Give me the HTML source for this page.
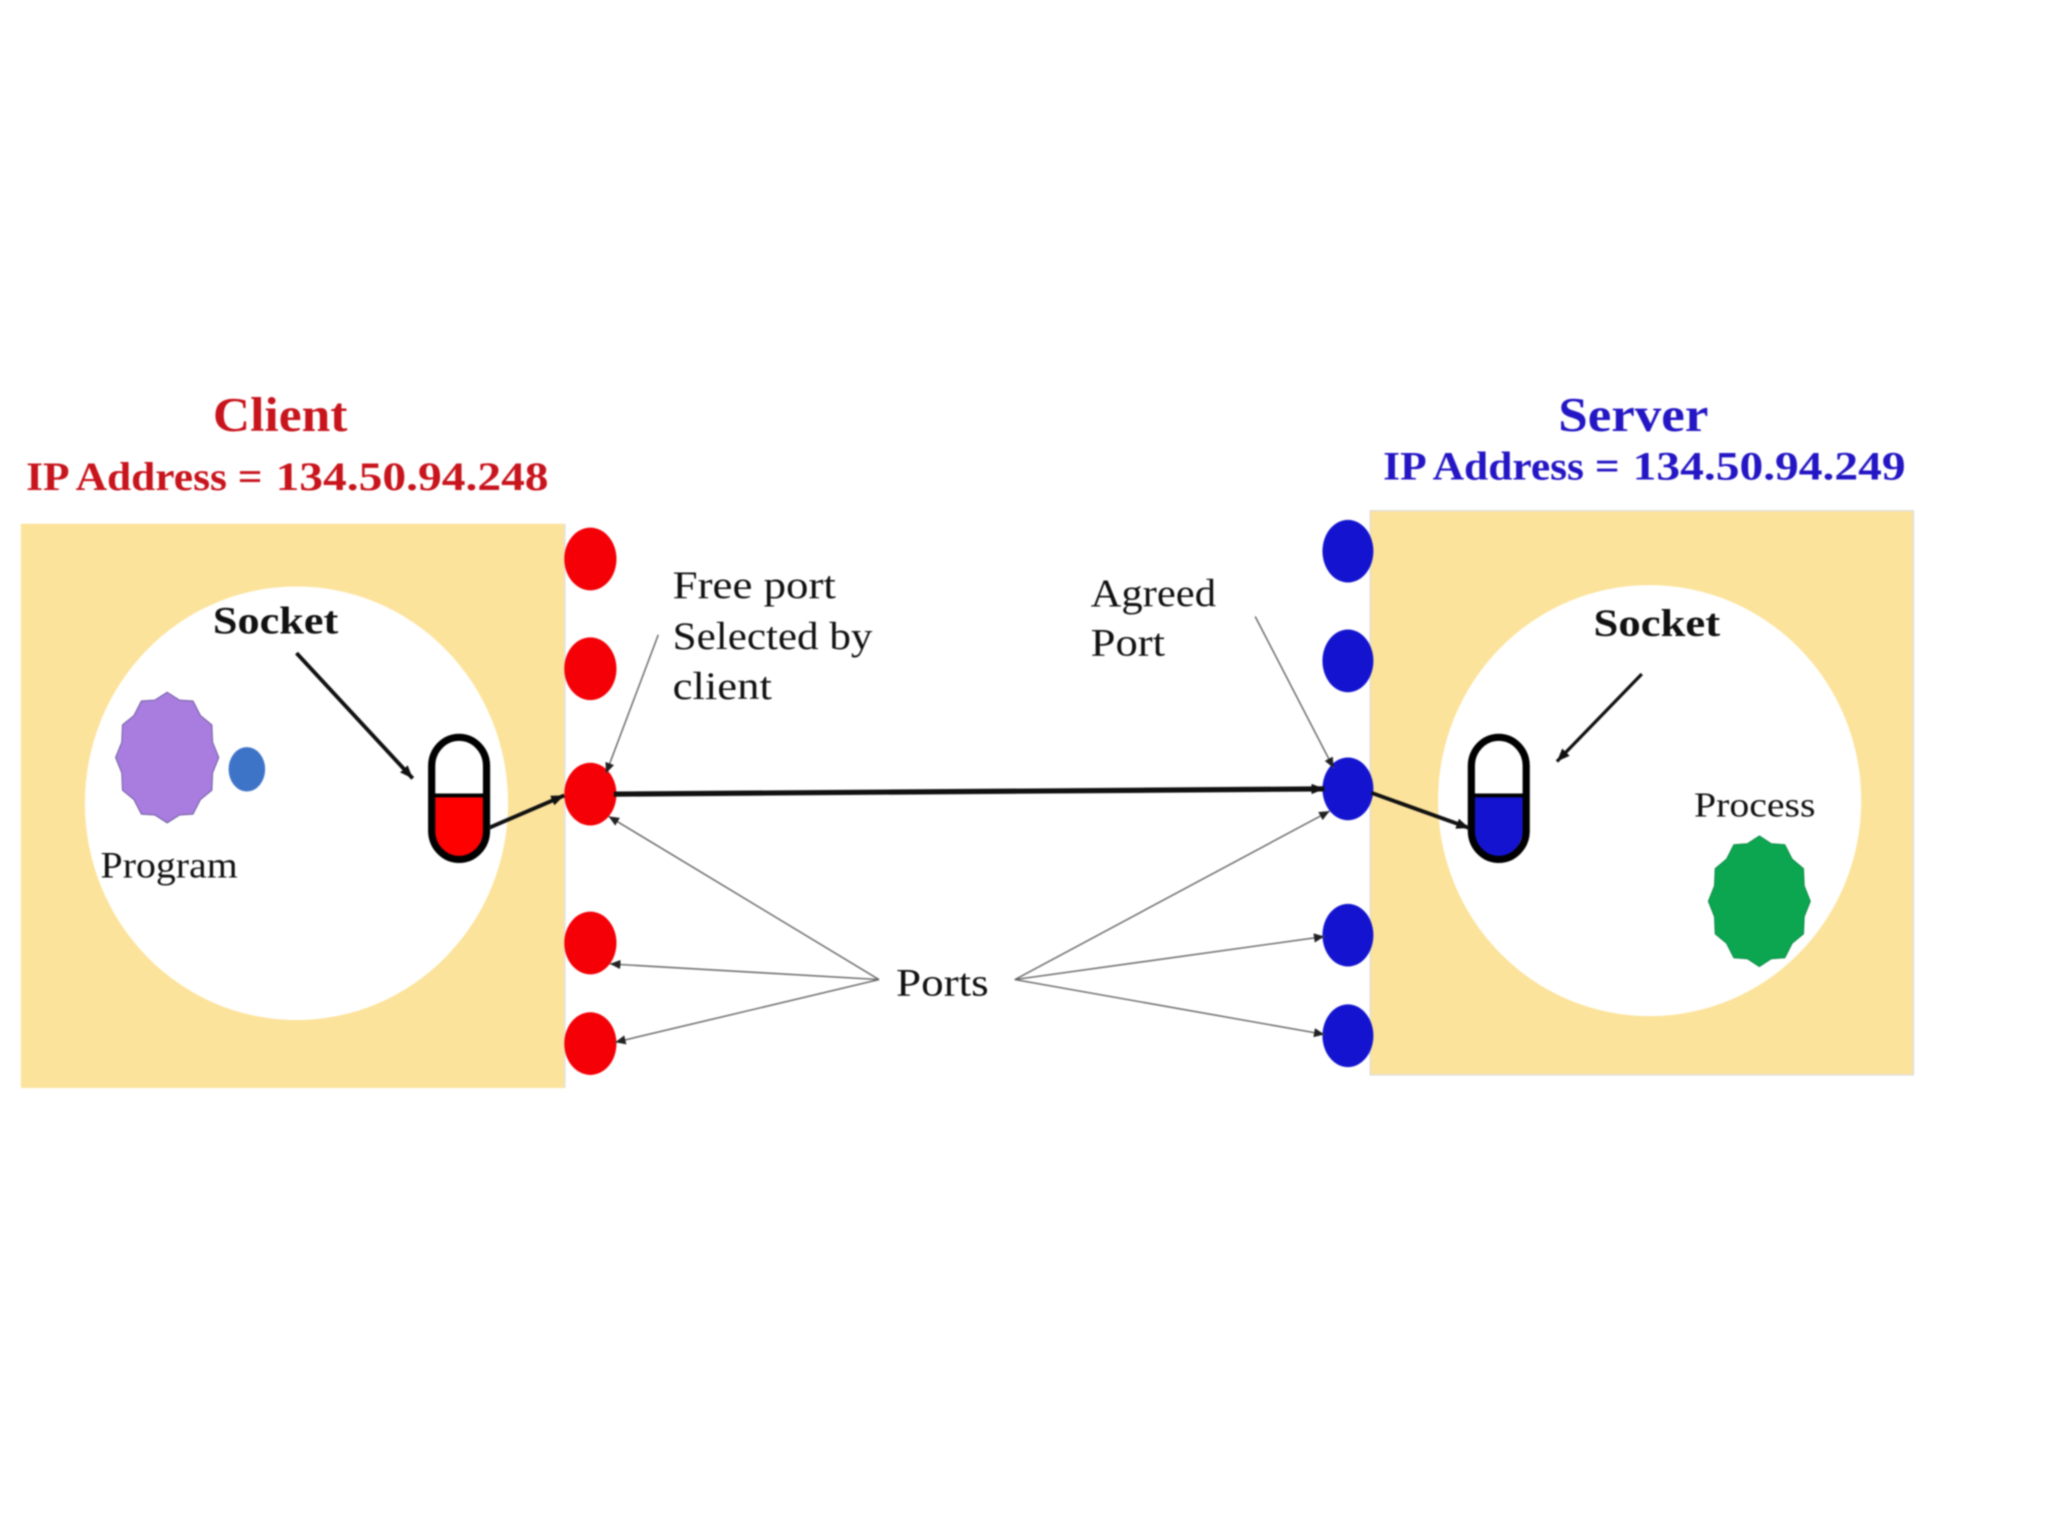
<!DOCTYPE html>
<html>
<head>
<meta charset="utf-8">
<style>
html,body{margin:0;padding:0;background:#fff;width:2048px;height:1536px;overflow:hidden}
svg{display:block;filter:blur(.8px)}
text{font-family:"Liberation Serif",serif;fill:#111}
.b{font-weight:bold}
.star{vector-effect:non-scaling-stroke;stroke-width:1}
</style>
</head>
<body>
<svg width="2048" height="1536" viewBox="0 0 1568 1176" xmlns="http://www.w3.org/2000/svg">
<defs>
<marker id="a" markerUnits="userSpaceOnUse" markerWidth="12" markerHeight="10" refX="10" refY="4" orient="auto"><path d="M0 0L10 4L0 8Z" fill="#111"/></marker>
<marker id="s" markerUnits="userSpaceOnUse" markerWidth="10" markerHeight="8" refX="8" refY="3.5" orient="auto"><path d="M0 0L8 3.5L0 7Z" fill="#222"/></marker>
<polygon id="st" class="star" points="0,-1 .236,-.88 .5,-.866 .644,-.644 .866,-.5 .88,-.236 1,0 .88,.236 .866,.5 .644,.644 .5,.866 .236,.88 0,1 -.236,.88 -.5,.866 -.644,.644 -.866,.5 -.88,.236 -1,0 -.88,-.236 -.866,-.5 -.644,-.644 -.5,-.866 -.236,-.88"/>
</defs>
<rect width="1568" height="1176" fill="#fff"/>

<!-- panels -->
<rect x="16" y="401" width="416" height="432" fill="#FCE39C"/>
<line x1="432.5" y1="401" x2="432.5" y2="833" stroke="#ddd" stroke-width="1"/>
<rect x="1049" y="391" width="416" height="432" fill="#FCE39C" stroke="#ddd" stroke-width="1"/>
<ellipse cx="227" cy="615" rx="162" ry="166" fill="#fff"/>
<ellipse cx="1263" cy="613" rx="162" ry="165" fill="#fff"/>

<!-- headings -->
<text x="163" y="330" class="b" font-size="37" textLength="103" lengthAdjust="spacingAndGlyphs" style="fill:#C8141C">Client</text>
<text x="20" y="375" class="b" font-size="31" textLength="181" lengthAdjust="spacingAndGlyphs" style="fill:#C8141C">IP Address =</text>
<text x="211" y="375" class="b" font-size="31" textLength="209" lengthAdjust="spacingAndGlyphs" style="fill:#C8141C">134.50.94.248</text>
<text x="1193" y="330" class="b" font-size="37" textLength="115" lengthAdjust="spacingAndGlyphs" style="fill:#2416C4">Server</text>
<text x="1059" y="367" class="b" font-size="31" textLength="181" lengthAdjust="spacingAndGlyphs" style="fill:#2416C4">IP Address =</text>
<text x="1250" y="367" class="b" font-size="31" textLength="209" lengthAdjust="spacingAndGlyphs" style="fill:#2416C4">134.50.94.249</text>

<!-- labels -->
<text x="163" y="485" class="b" font-size="30" textLength="96" lengthAdjust="spacingAndGlyphs">Socket</text>
<text x="1220" y="487" class="b" font-size="30" textLength="97" lengthAdjust="spacingAndGlyphs">Socket</text>
<text x="77" y="672" font-size="28" textLength="105" lengthAdjust="spacingAndGlyphs">Program</text>
<text x="1297" y="625" font-size="27" textLength="93" lengthAdjust="spacingAndGlyphs">Process</text>
<text x="515" y="458" font-size="30" textLength="125" lengthAdjust="spacingAndGlyphs">Free port</text>
<text x="515" y="497" font-size="30" textLength="153" lengthAdjust="spacingAndGlyphs">Selected by</text>
<text x="515" y="535" font-size="30" textLength="76" lengthAdjust="spacingAndGlyphs">client</text>
<text x="835" y="464" font-size="30" textLength="96" lengthAdjust="spacingAndGlyphs">Agreed</text>
<text x="835" y="502" font-size="30" textLength="57" lengthAdjust="spacingAndGlyphs">Port</text>
<text x="686" y="762" font-size="30" textLength="71" lengthAdjust="spacingAndGlyphs">Ports</text>

<!-- program / process -->
<use href="#st" transform="translate(128 580) scale(39.5 50)" fill="#A97DE0" stroke="#6F5AA0"/>
<ellipse cx="189" cy="589" rx="14" ry="17" fill="#3E74C8"/>
<use href="#st" transform="translate(1347 690) scale(39 50)" fill="#0CA650" stroke="#0A8A44"/>

<!-- sockets -->
<path d="M331.5 609V632a19.5 25 0 0 0 39 0V609Z" fill="#F00"/>
<rect x="330.5" y="564.5" width="42" height="93.5" rx="21" ry="22" fill="none" stroke="#000" stroke-width="5.5"/>
<line x1="331" y1="609" x2="372" y2="609" stroke="#000" stroke-width="3"/>
<path d="M1127.5 609V632a19.5 25 0 0 0 39 0V609Z" fill="#1414D0"/>
<rect x="1126.5" y="564.5" width="42" height="93.5" rx="21" ry="22" fill="none" stroke="#000" stroke-width="5.5"/>
<line x1="1127" y1="609" x2="1168" y2="609" stroke="#000" stroke-width="3"/>

<!-- ports -->
<g fill="#F40006">
<ellipse cx="452" cy="428" rx="20" ry="24"/>
<ellipse cx="452" cy="512" rx="20" ry="24"/>
<ellipse cx="452" cy="608" rx="20" ry="24"/>
<ellipse cx="452" cy="722" rx="20" ry="24"/>
<ellipse cx="452" cy="799" rx="20" ry="24"/>
</g>
<g fill="#1414D0">
<ellipse cx="1032" cy="422" rx="19.5" ry="24"/>
<ellipse cx="1032" cy="506" rx="19.5" ry="24"/>
<ellipse cx="1032" cy="604" rx="19.5" ry="24"/>
<ellipse cx="1032" cy="716" rx="19.5" ry="24"/>
<ellipse cx="1032" cy="793" rx="19.5" ry="24"/>
</g>

<!-- thick connectors -->
<g stroke="#111" fill="none">
<line x1="227" y1="500" x2="316" y2="596" stroke-width="3" marker-end="url(#a)"/>
<line x1="374" y1="634" x2="432" y2="609" stroke-width="3" marker-end="url(#a)"/>
<line x1="470" y1="608" x2="1014" y2="604" stroke-width="4" marker-end="url(#a)"/>
<line x1="1050" y1="607" x2="1125" y2="634" stroke-width="3" marker-end="url(#a)"/>
<line x1="1257" y1="516" x2="1192" y2="583" stroke-width="2.5" marker-end="url(#a)"/>
</g>
<!-- thin connectors -->
<g stroke="#666" stroke-width="1.1" fill="none">
<line x1="504" y1="486" x2="464" y2="592" marker-end="url(#s)"/>
<line x1="961" y1="472" x2="1021" y2="588" marker-end="url(#s)"/>
<line x1="673" y1="750" x2="466" y2="625" marker-end="url(#s)"/>
<line x1="673" y1="750" x2="467" y2="738" marker-end="url(#s)"/>
<line x1="673" y1="750" x2="471" y2="798" marker-end="url(#s)"/>
<line x1="777" y1="750" x2="1018" y2="621" marker-end="url(#s)"/>
<line x1="777" y1="750" x2="1014" y2="717" marker-end="url(#s)"/>
<line x1="777" y1="750" x2="1014" y2="792" marker-end="url(#s)"/>
</g>
</svg>
</body>
</html>
